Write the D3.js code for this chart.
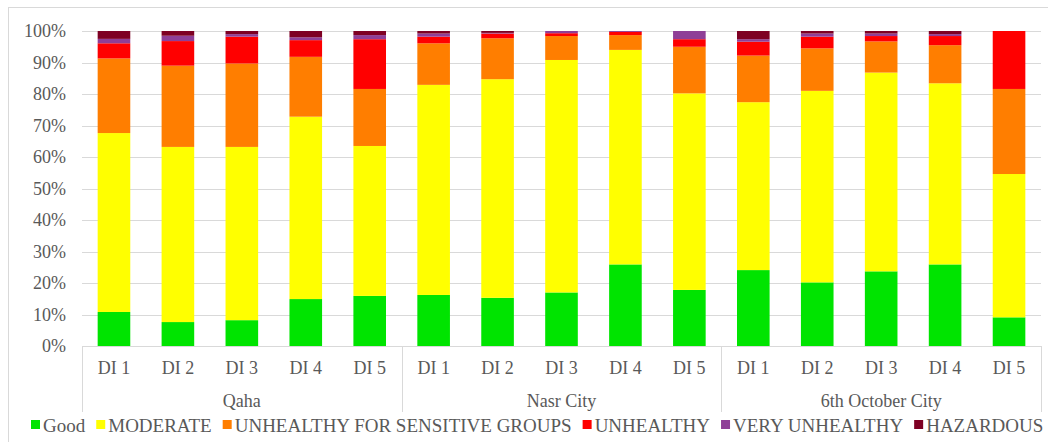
<!DOCTYPE html>
<html><head><meta charset="utf-8">
<script src="https://cdn.jsdelivr.net/npm/d3@7"></script>
<style>
html,body{margin:0;padding:0;background:#fff;}
svg{display:block;}
svg text{font-family:"Liberation Serif","Tinos","Times New Roman","DejaVu Serif",serif !important;}
</style></head>
<body>
<svg id="chart" width="1048" height="442"></svg>
<script>
// ---- data ----
const categories = ["DI 1","DI 2","DI 3","DI 4","DI 5"];
const groups = ["Qaha","Nasr City","6th October City"];
const seriesNames = ["Good","MODERATE","UNHEALTHY FOR SENSITIVE GROUPS","UNHEALTHY","VERY UNHEALTHY","HAZARDOUS"];
const seriesColors = ["#00E400","#FFFF00","#FF7E00","#FF0000","#8F3F97","#7E0023"];
// values (%) in order: Qaha DI1..5, Nasr City DI1..5, 6th October City DI1..5
const good          = [10.8, 7.6, 8.2,14.9,15.9, 16.2,15.3,17.0,25.9,17.8, 24.1,20.2,23.7,25.9, 9.1];
const moderate      = [56.8,55.6,55.0,57.9,47.6, 66.7,69.4,73.8,68.1,62.4, 53.3,60.8,63.1,57.5,45.5];
const usg           = [23.7,25.8,26.5,19.0,18.1, 13.2,13.0, 7.6, 4.7,14.8, 14.8,13.5, 9.9,12.1,27.0];
const unhealthy     = [ 4.8, 7.8, 8.5, 5.3,15.8,  2.1, 1.5, 0.9, 1.0, 2.4,  4.4, 3.7, 1.7, 2.9,18.4];
const veryUnhealthy = [ 1.4, 1.7, 0.8, 0.9, 1.3,  1.0, 0.2, 0.7, 0.3, 2.6,  0.8, 1.0, 0.8, 0.6, 0.0];
const hazardous     = [ 2.5, 1.5, 1.0, 2.0, 1.3,  0.8, 0.6, 0.0, 0.0, 0.0,  2.6, 0.8, 0.8, 1.0, 0.0];
const yTicks = [0,10,20,30,40,50,60,70,80,90,100];

(function () {
// ---- build table ----
const seriesArrays = [good, moderate, usg, unhealthy, veryUnhealthy, hazardous];
const rows = [];
groups.forEach((g, gi) => categories.forEach((c, ci) => {
  const i = gi * categories.length + ci;
  const r = {key: g + "|" + c, group: g, cat: c};
  seriesNames.forEach((s, si) => r[s] = seriesArrays[si][i]);
  rows.push(r);
}));

const svg = d3.select("#chart");
const W = 1048, H = 442;
const pLeft = 82, pRight = 1041, pTop = 31, pBottom = 346;
const textColor = "#595959";

// frame
svg.append("rect").attr("x", 8.5).attr("y", 7.5).attr("width", W + 20).attr("height", H + 20)
  .attr("fill", "none").attr("stroke", "#d9d9d9").attr("stroke-width", 1);

const x = d3.scaleBand().domain(rows.map(r => r.key)).range([pLeft, pRight])
  .paddingInner(0.49).paddingOuter(0.245);
const y = d3.scaleLinear().domain([0, 100]).range([pBottom, pTop]);

// gridlines
svg.append("g").selectAll("line").data(yTicks.filter(t => t > 0)).join("line")
  .attr("x1", pLeft).attr("x2", pRight)
  .attr("y1", d => Math.round(y(d)) + 0.5).attr("y2", d => Math.round(y(d)) + 0.5)
  .attr("stroke", "#d9d9d9").attr("stroke-width", 1);

// y labels
const yAxis = d3.axisLeft(y).tickValues(yTicks).tickFormat(d => d + "%").tickSize(0).tickPadding(0);
const yg = svg.append("g").attr("transform", `translate(66,0)`).call(yAxis).attr("font-family", null);
yg.select(".domain").remove();
yg.selectAll("text").attr("fill", textColor).style("font-size", "18px");

// bars
const stack = d3.stack().keys(seriesNames)(rows);
svg.append("g").selectAll("g").data(stack).join("g")
  .attr("fill", (d, i) => seriesColors[i])
  .selectAll("rect").data(d => d).join("rect")
  .attr("x", d => x(d.data.key))
  .attr("width", x.bandwidth())
  .attr("y", d => y(d[1]))
  .attr("height", d => Math.max(0, y(d[0]) - y(d[1])));

// x axis line
svg.append("line").attr("x1", pLeft).attr("x2", pRight).attr("y1", pBottom + 0.5).attr("y2", pBottom + 0.5)
  .attr("stroke", "#d9d9d9");

// group separators
const groupW = (pRight - pLeft) / groups.length;
const sepX = d3.range(groups.length + 1).map(i => pLeft + i * groupW);
svg.append("g").selectAll("line").data(sepX).join("line")
  .attr("x1", d => Math.round(d) + 0.5).attr("x2", d => Math.round(d) + 0.5)
  .attr("y1", pBottom).attr("y2", 412)
  .attr("stroke", "#d9d9d9");

// category labels
const xAxis = d3.axisBottom(x).tickFormat(k => k.split("|")[1]).tickSize(0).tickPadding(0);
const xg = svg.append("g").attr("transform", `translate(0,${pBottom})`).call(xAxis).attr("font-family", null);
xg.select(".domain").remove();
xg.selectAll("text").attr("fill", textColor).attr("dy", null).attr("y", 28)
  .style("font-size", "18px");

// group labels
svg.append("g").selectAll("text").data(groups).join("text")
  .attr("x", (d, i) => pLeft + (i + 0.5) * groupW).attr("y", 407)
  .attr("text-anchor", "middle").attr("fill", textColor).style("font-size", "18px")
  .text(d => d);

// legend
const lg = svg.append("g");
let lx = 31;
seriesNames.forEach((s, i) => {
  lg.append("rect").attr("x", lx).attr("y", 420).attr("width", 9).attr("height", 9).attr("fill", seriesColors[i]);
  const t = lg.append("text").attr("x", lx + 12).attr("y", 432).attr("fill", textColor)
    .style("font-size", "19px").text(s);
  lx += 12 + t.node().getComputedTextLength() + 11;
});
})();
</script>
</body></html>
